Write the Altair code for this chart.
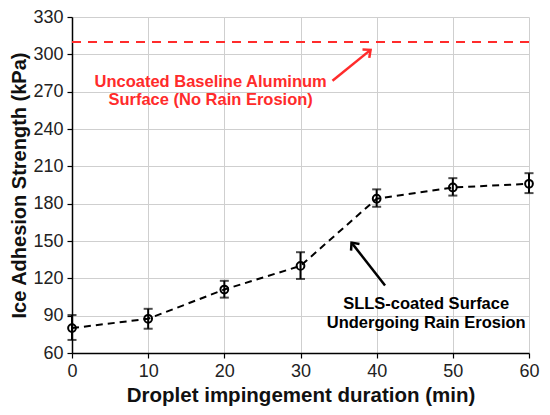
import altair as alt
import pandas as pd

# data
durations = [0, 10, 20, 30, 40, 50, 60]
strength = [80, 87.5, 111, 130, 184, 193, 196]
err_low = [70.5, 79.5, 104.5, 119.5, 177.5, 186.5, 188.5]
err_high = [90.5, 95.5, 118, 141, 191.5, 200.5, 204.5]
baseline_value = 310
y_ticks = [60, 90, 120, 150, 180, 210, 240, 270, 300, 330]

red_text = ["Uncoated Baseline Aluminum", "Surface (No Rain Erosion)"]
red_text_x = [18.2, 18.2]
red_text_y = [278, 263]
black_text = ["SLLS-coated Surface", "Undergoing Rain Erosion"]
black_text_x = [46.5, 46.5]
black_text_y = [99, 84]

# arrows: tail (x, y) -> tip (x2, y2), in data units
arrow_x = [34.2, 41.1]
arrow_y = [278.8, 114.3]
arrow_x2 = [39.2, 36.7]
arrow_y2 = [303.6, 148.7]
arrow_color = ["#ff2b2b", "#000000"]
arrow_angle = [50.8, 321.7]

df = pd.DataFrame({"t": durations, "s": strength, "lo": err_low, "hi": err_high})
base_df = pd.DataFrame({"x": [0], "x2": [60], "y": [baseline_value]})
red_df = pd.DataFrame({"x": red_text_x, "y": red_text_y, "label": red_text})
black_df = pd.DataFrame({"x": black_text_x, "y": black_text_y, "label": black_text})
arr_df = pd.DataFrame({"x": arrow_x, "y": arrow_y, "x2": arrow_x2, "y2": arrow_y2,
                       "c": arrow_color, "a": arrow_angle})

xs = alt.Scale(domain=[0, 60], nice=False)
ys = alt.Scale(domain=[60, 330], nice=False)
x_axis = alt.Axis(values=durations, grid=True, labelOverlap=False, labelFlush=False)
y_axis = alt.Axis(values=y_ticks, grid=True, labelOverlap=False, labelFlush=False)
X_TITLE = "Droplet impingement duration (min)"
Y_TITLE = "Ice Adhesion Strength (kPa)"


def xe(field):
    return alt.X(field, scale=xs, axis=x_axis, title=X_TITLE)


def ye(field):
    return alt.Y(field, scale=ys, axis=y_axis, title=Y_TITLE)


line = alt.Chart(df).mark_line(color="black", strokeWidth=2, strokeDash=[7, 5]).encode(
    x=xe("t:Q"), y=ye("s:Q"))
rules = alt.Chart(df).mark_rule(color="black", strokeWidth=2).encode(
    x=xe("t:Q"), y=ye("lo:Q"), y2="hi:Q")
cap_lo = alt.Chart(df).mark_tick(color="black", thickness=2, size=9, orient="horizontal").encode(
    x=xe("t:Q"), y=ye("lo:Q"))
cap_hi = alt.Chart(df).mark_tick(color="black", thickness=2, size=9, orient="horizontal").encode(
    x=xe("t:Q"), y=ye("hi:Q"))
pts = alt.Chart(df).mark_point(shape="circle", filled=False, color="black", size=60,
                               strokeWidth=2, opacity=1).encode(
    x=xe("t:Q"), y=ye("s:Q"))

baseline = alt.Chart(base_df).mark_rule(color="#ff2b2b", strokeWidth=2, strokeDash=[9, 7]).encode(
    x=xe("x:Q"), x2="x2:Q", y=ye("y:Q"))

red_txt = alt.Chart(red_df).mark_text(color="#ff2b2b", font="Liberation Sans", fontWeight="bold",
                                      fontSize=16.5, align="center", baseline="middle").encode(
    x=xe("x:Q"), y=ye("y:Q"), text="label:N")
black_txt = alt.Chart(black_df).mark_text(color="black", font="Liberation Sans", fontWeight="bold",
                                          fontSize=16.5, align="center", baseline="middle").encode(
    x=xe("x:Q"), y=ye("y:Q"), text="label:N")

arr_lines = alt.Chart(arr_df).mark_rule(strokeWidth=2.5).encode(
    x=xe("x:Q"), y=ye("y:Q"), x2="x2:Q", y2="y2:Q",
    color=alt.Color("c:N", scale=None))
arr_heads = alt.Chart(arr_df).mark_point(shape="M-0.8,0.9L0,0L0.8,0.9", filled=False,
                                         size=180, strokeWidth=2.5, opacity=1).encode(
    x=xe("x2:Q"), y=ye("y2:Q"),
    color=alt.Color("c:N", scale=None), angle=alt.Angle("a:Q", scale=None))

chart = alt.layer(line, baseline, rules, cap_lo, cap_hi, pts, red_txt, black_txt,
                  arr_lines, arr_heads).properties(
    width=457, height=336,
    autosize=alt.AutoSizeParams(type="none"),
    padding={"left": 64, "top": 9, "right": 13, "bottom": 54},
).configure_view(stroke=None).configure_axis(
    grid=True, labelOverlap=False, labelFlush=False,
    labelFont="Liberation Sans", labelFontSize=18, labelColor="#222",
    titleFont="Liberation Sans", titleFontSize=20.5, titleFontWeight="bold", titleColor="#111",
    gridColor="#cfcfcf", gridWidth=1, gridOpacity=1, domainColor="#000", domainWidth=1.5,
    tickColor="#000", tickSize=5, tickWidth=1.2,
).configure_axisX(titlePadding=5, labelPadding=4).configure_axisY(
    titlePadding=3, labelPadding=4, titleFontSize=20)

chart.save("out.html", embed_options={"renderer": "svg", "actions": False})
